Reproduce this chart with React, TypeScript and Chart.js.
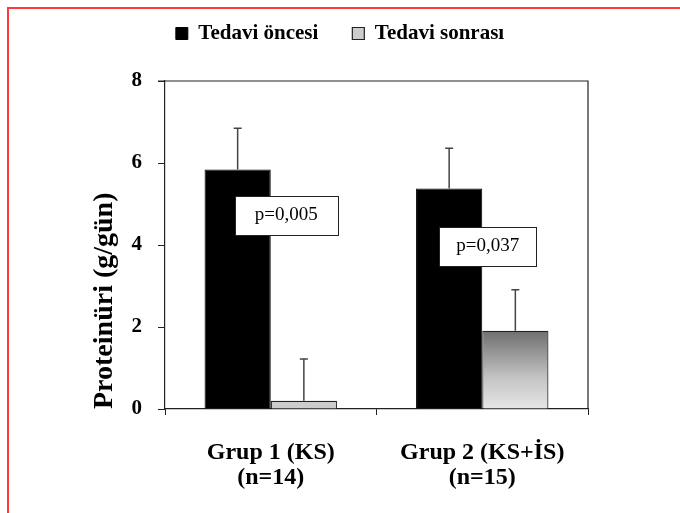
import React, { useEffect, useRef } from "react";
import { Chart, registerables } from "chart.js";

Chart.register(...registerables);

const categories = [["Grup 1 (KS)", "(n=14)"], ["Grup 2 (KS+İS)", "(n=15)"]];
const seriesNames = ["Tedavi öncesi", "Tedavi sonrası"];
const beforeValues = [5.84, 5.38];
const afterValues = [0.2, 1.91];
const beforeErrors = [1.01, 0.98];
const afterErrors = [1.02, 1.0];
const yTickValues = [0, 2, 4, 6, 8];
const pLabels = ["p=0,005", "p=0,037"];

const SERIF = "'Liberation Serif', 'Times New Roman', serif";

// annotation placement (style/position config, not data)
const pBoxes = [
  { index: 0, dx: 15.5, yValue: 4.73, w: 103, h: 39 },
  { index: 1, dx: 5.5, yValue: 3.97, w: 97, h: 39 },
];

const errors = [beforeErrors, afterErrors];

const legendSpacer = {
  id: "legendSpacer",
  beforeInit(chart: any) {
    const lg = chart.legend;
    if (lg && !lg.__patched) {
      const f = lg.fit.bind(lg);
      lg.fit = () => {
        f();
        lg.height += 27;
      };
      lg.__patched = true;
    }
  },
};

const errorBarPlugin = {
  id: "errorBars",
  afterDatasetsDraw(chart: any) {
    const ctx = chart.ctx;
    const yScale = chart.scales.y;
    ctx.save();
    ctx.strokeStyle = "#444";
    ctx.lineWidth = 1.5;
    chart.data.datasets.forEach((ds: any, di: number) => {
      const meta = chart.getDatasetMeta(di);
      meta.data.forEach((bar: any, i: number) => {
        const v = ds.data[i];
        const top = yScale.getPixelForValue(v + errors[di][i]);
        ctx.beginPath();
        ctx.moveTo(bar.x, bar.y);
        ctx.lineTo(bar.x, top);
        ctx.moveTo(bar.x - 4, top);
        ctx.lineTo(bar.x + 4, top);
        ctx.stroke();
      });
    });
    ctx.restore();
  },
};

const pBoxPlugin = {
  id: "pBoxes",
  afterDatasetsDraw(chart: any) {
    const ctx = chart.ctx;
    const xs = chart.scales.x;
    const ys = chart.scales.y;
    ctx.save();
    pBoxes.forEach((b, i) => {
      const cx = xs.getPixelForValue(b.index) + b.dx;
      const cy = ys.getPixelForValue(b.yValue);
      const x0 = Math.round(cx - b.w / 2) + 0.5;
      const y0 = Math.round(cy - b.h / 2) + 0.5;
      ctx.fillStyle = "#fff";
      ctx.fillRect(x0, y0, b.w, b.h);
      ctx.strokeStyle = "#222";
      ctx.lineWidth = 1;
      ctx.strokeRect(x0, y0, b.w, b.h);
      ctx.fillStyle = "#000";
      ctx.font = `19px ${SERIF}`;
      ctx.textAlign = "center";
      ctx.textBaseline = "middle";
      ctx.fillText(pLabels[i], cx, cy);
    });
    ctx.restore();
  },
};

const framePlugin = {
  id: "frame",
  afterDraw(chart: any) {
    const { ctx, chartArea } = chart;
    ctx.save();
    ctx.strokeStyle = "#222";
    ctx.lineWidth = 1.2;
    ctx.beginPath();
    ctx.moveTo(chartArea.left - 7, chartArea.top);
    ctx.lineTo(chartArea.right, chartArea.top);
    ctx.lineTo(chartArea.right, chartArea.bottom);
    ctx.stroke();
    ctx.restore();
  },
};

function grayFill(c: any) {
  const chart = c.chart;
  if (c.type !== "data" || !chart.chartArea) return "#cfcfcf";
  const ys = chart.scales.y;
  const yTop = ys.getPixelForValue(c.raw);
  const yBot = ys.getPixelForValue(0);
  if (yBot - yTop < 20) return "#cdcdcd";
  const g = chart.ctx.createLinearGradient(0, yTop, 0, yBot);
  g.addColorStop(0, "#6e6e6e");
  g.addColorStop(0.6, "#c4c4c4");
  g.addColorStop(1, "#e6e6e6");
  return g;
}

export default function App() {
  const ref = useRef<HTMLCanvasElement>(null);
  useEffect(() => {
    if (!ref.current) return;
    const chart = new Chart(ref.current, {
      type: "bar",
      data: {
        labels: categories,
        datasets: [
          {
            label: seriesNames[0],
            data: beforeValues,
            backgroundColor: "#000",
            borderColor: "#000",
            borderWidth: 1,
            categoryPercentage: 0.626,
            barPercentage: 1,
          },
          {
            label: seriesNames[1],
            data: afterValues,
            backgroundColor: grayFill,
            borderColor: "#222",
            borderWidth: 1.2,
            categoryPercentage: 0.626,
            barPercentage: 1,
          },
        ],
      },
      options: {
        responsive: false,
        animation: false,
        devicePixelRatio: 1,
        layout: { padding: { left: 0, right: 0, top: -11, bottom: 0 } },
        plugins: {
          tooltip: { enabled: false },
          legend: {
            position: "top",
            labels: {
              color: "#000",
              boxWidth: 12,
              boxHeight: 12,
              padding: 34,
              font: { family: SERIF, size: 21, weight: "bold" },
            },
          },
        },
        scales: {
          x: {
            grid: {
              drawOnChartArea: false,
              drawTicks: true,
              tickLength: 6,
              color: "#222",
              offset: true,
            },
            border: { display: true, color: "#222", width: 1.2 },
            ticks: {
              color: "#000",
              padding: 25,
              font: { family: SERIF, size: 24, weight: "bold", lineHeight: 1.05 },
            },
            afterFit(s: any) {
              s.height = 104;
            },
          },
          y: {
            min: 0,
            max: 8,
            afterBuildTicks(s: any) {
              s.ticks = yTickValues.map((v) => ({ value: v }));
            },
            grid: {
              drawOnChartArea: false,
              drawTicks: true,
              tickLength: 7,
              color: "#222",
            },
            border: { display: true, color: "#222", width: 1.2 },
            ticks: {
              color: "#000",
              padding: 16,
              font: { family: SERIF, size: 21, weight: "bold" },
            },
            title: {
              display: true,
              text: "Proteinüri (g/gün)",
              align: "start",
              color: "#000",
              padding: { top: 88, bottom: 0 },
              font: { family: SERIF, size: 28, weight: "bold" },
            },
            afterFit(s: any) {
              s.width = 165;
            },
          },
          spacer: {
            type: "linear",
            position: "right",
            display: true,
            grid: { display: false },
            ticks: { display: false },
            border: { display: false },
            afterFit(s: any) {
              s.width = 92;
            },
          },
        },
      },
      plugins: [legendSpacer, errorBarPlugin, pBoxPlugin, framePlugin],
    } as any);
    return () => chart.destroy();
  }, []);

  return (
    <div style={{ position: "absolute", left: 0, top: 0, width: 680, height: 513, background: "#fff", overflow: "hidden" }}>
      <div
        style={{
          position: "absolute",
          left: 7,
          top: 7,
          right: -10,
          bottom: -10,
          borderLeft: "2px solid #ff3a3a",
          borderTop: "2px solid #ff3a3a",
        }}
      />
      <canvas ref={ref} width={680} height={513} style={{ position: "absolute", left: 0, top: 0 }} />
    </div>
  );
}
